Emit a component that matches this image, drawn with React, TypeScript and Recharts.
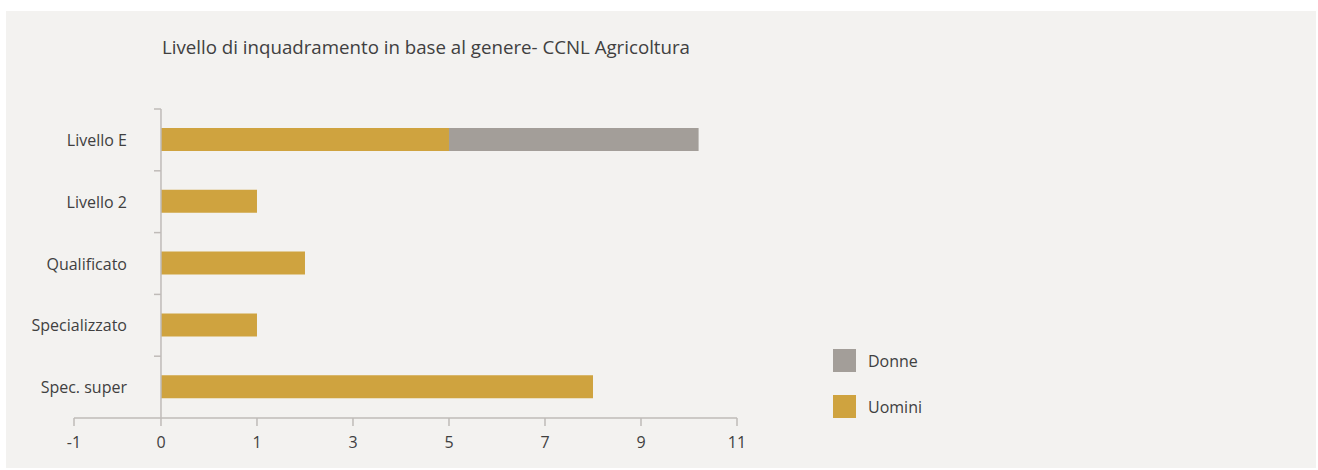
import React from "react";
import { Bar, BarChart, Legend, ReferenceLine, XAxis, YAxis } from "recharts";

const categories = ["Livello E", "Livello 2", "Qualificato", "Specializzato", "Spec. super"];
const uomini = [5, 1, 2, 1, 8];
const donne = [5.2, 0, 0, 0, 0];
const tickValues = [-1, 0, 1, 3, 5, 7, 9, 11];

const GOLD = "#CFA33F";
const GREY = "#A39E99";
const AXIS = "#BFBBB8";
const TEXT = "#404040";
const FONT = "'Open Sans', sans-serif";

// the original axis is not linear: -1..0 is short, 0..1 one step, then 2 units per step
const pos = (v: number) => (v < 0 ? v * 0.906 : v <= 1 ? v : (v + 1) / 2);
const posToLabel = new Map(tickValues.map((v) => [pos(v), String(v)]));

const data = categories.map((name, i) => ({
  name,
  Uomini: pos(uomini[i]),
  Donne: pos(uomini[i] + donne[i]) - pos(uomini[i]),
}));

const W = 1310;
const H = 457;
const Y_W = 1;
const M = { top: 98, right: 579, bottom: 20, left: 67 };
const X_H = 30;
const plotH = H - M.top - M.bottom - X_H;
const plotL = M.left + Y_W;
const band = plotH / categories.length;
// x pixel of the value 0 inside the svg
const zeroX = plotL + ((0 - pos(-1)) / (pos(11) - pos(-1))) * (W - plotL - M.right);

function CatTick({ y, payload }: any) {
  return (
    <g>
      <line x1={zeroX - 7} x2={zeroX} y1={y - band / 2} y2={y - band / 2} stroke={AXIS} strokeWidth={1.5} />
      <text x={zeroX - 34} y={y} textAnchor="end" dominantBaseline="central" fill={TEXT} fontSize={16} fontFamily={FONT}>
        {payload.value}
      </text>
    </g>
  );
}

function LegendBox({ payload }: any) {
  const items = [...(payload || [])].sort((a: any, b: any) => String(a.value).localeCompare(String(b.value)));
  return (
    <div style={{ fontFamily: FONT, fontSize: 16, color: TEXT }}>
      {items.map((it: any) => (
        <div key={it.value} style={{ display: "flex", alignItems: "center", height: 23, marginBottom: 23 }}>
          <span style={{ width: 23, height: 23, background: it.color, display: "inline-block", marginRight: 12 }} />
          <span>{it.value}</span>
        </div>
      ))}
    </div>
  );
}

export default function App() {
  return (
    <div style={{ position: "absolute", left: 6, top: 11, width: W, height: H, background: "#F3F2F0" }}>
      <div
        style={{
          position: "absolute",
          left: 156,
          top: 23,
          fontFamily: FONT,
          fontSize: 18.7,
          color: TEXT,
          whiteSpace: "nowrap",
        }}
      >
        Livello di inquadramento in base al genere- CCNL Agricoltura
      </div>
      <BarChart width={W} height={H} data={data} layout="vertical" margin={M} barSize={23}>
        <XAxis
          type="number"
          domain={[pos(-1), pos(11)]}
          ticks={tickValues.map(pos)}
          tickFormatter={(p: number) => posToLabel.get(p) ?? ""}
          interval={0}
          height={X_H}
          stroke={AXIS}
          strokeWidth={1.5}
          tickSize={8}
          tickMargin={11}
          tick={{ fill: TEXT, fontSize: 16, fontFamily: FONT }}
          allowDataOverflow
        />
        <YAxis
          type="category"
          dataKey="name"
          width={Y_W}
          axisLine={false}
          tickLine={false}
          tick={<CatTick />}
          interval={0}
        />
        <ReferenceLine x={0} stroke={AXIS} strokeWidth={1.5} />
        <Bar dataKey="Uomini" stackId="a" fill={GOLD} isAnimationActive={false} />
        <Bar dataKey="Donne" stackId="a" fill={GREY} isAnimationActive={false} />
        <Legend
          layout="horizontal"
          verticalAlign="middle"
          align="center"
          content={<LegendBox />}
          wrapperStyle={{ left: 827, top: 338, width: 150 }}
        />
      </BarChart>
    </div>
  );
}
